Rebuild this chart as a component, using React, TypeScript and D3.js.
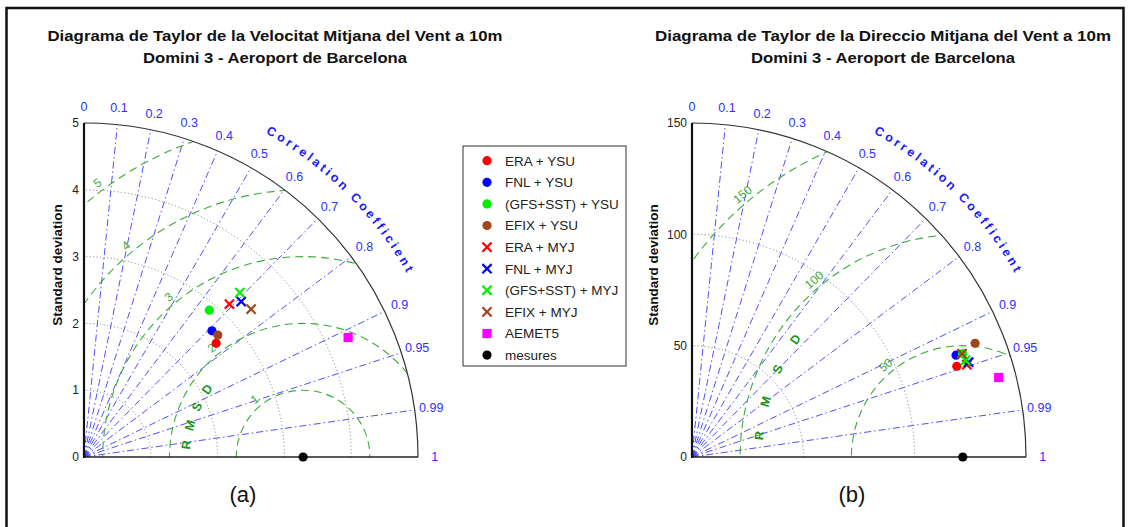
import React from "react";
import * as d3 from "d3";

// Series shared by both diagrams
const seriesNames = [
  "ERA + YSU",
  "FNL + YSU",
  "(GFS+SST) + YSU",
  "EFIX + YSU",
  "ERA + MYJ",
  "FNL + MYJ",
  "(GFS+SST) + MYJ",
  "EFIX + MYJ",
  "AEMET5",
  "mesures",
];
const seriesColors = ["#ff0000", "#0000ff", "#00ee00", "#a0461a", "#ff0000", "#0000ff", "#00ee00", "#a0461a", "#ff00ff", "#000000"];
const seriesShapes = ["circle", "circle", "circle", "circle", "cross", "cross", "cross", "cross", "square", "dot"];

// (a) wind speed: standard deviation and correlation per series
const speedStd = [2.61, 2.69, 2.89, 2.71, 3.16, 3.31, 3.39, 3.34, 4.34, 3.28];
const speedCorr = [0.758, 0.712, 0.649, 0.739, 0.689, 0.711, 0.688, 0.749, 0.911, 1];
const speedStdTicks = [0, 1, 2, 3, 4, 5];
const speedRmsd = [1, 2, 3, 4, 5];

// (b) wind direction
const dirStd = [125.7, 127.1, 130.1, 137.0, 130.2, 131.3, 130.3, 129.8, 142.3, 121.6];
const dirCorr = [0.946, 0.933, 0.934, 0.928, 0.948, 0.946, 0.943, 0.934, 0.968, 1];
const dirStdTicks = [0, 50, 100, 150];
const dirRmsd = [50, 100, 150];

// Correlation rays and labels
const corrLines = [0.1, 0.2, 0.3, 0.4, 0.5, 0.6, 0.7, 0.8, 0.9, 0.95, 0.99];
const corrLabels = [0, 0.1, 0.2, 0.3, 0.4, 0.5, 0.6, 0.7, 0.8, 0.9, 0.95, 0.99, 1];

const FONT = "'Liberation Sans', Arial, Helvetica, sans-serif";
const BLUE = "#3030ff";
const GREEN = "#3cab3c";

type PanelProps = {
  id: string;
  ox: number;
  oy: number;
  R: number;
  maxStd: number;
  std: number[];
  corr: number[];
  stdTicks: number[];
  rmsd: number[];
  rmsdLetterRadius: number;
  ylabGap: number;
  title: string[];
  titleWidths: number[];
  titleX: number;
  caption: string;
  captionX: number;
};

function Marker({ shape, color, x, y }: { shape: string; color: string; x: number; y: number }) {
  if (shape === "circle" || shape === "dot") {
    return <circle cx={x} cy={y} r={4.6} fill={color} />;
  }
  if (shape === "square") {
    return <rect x={x - 4.6} y={y - 4.6} width={9.2} height={9.2} fill={color} />;
  }
  const s = 4.6;
  return (
    <g stroke={color} strokeWidth={2.2}>
      <line x1={x - s} y1={y - s} x2={x + s} y2={y + s} />
      <line x1={x - s} y1={y + s} x2={x + s} y2={y - s} />
    </g>
  );
}

function TaylorPanel(p: PanelProps) {
  const { ox, oy, R, maxStd } = p;
  const rs = d3.scaleLinear().domain([0, maxStd]).range([0, R]);
  const pos = (s: number, c: number): [number, number] => {
    const r = rs(s);
    return [ox + r * c, oy - r * Math.sqrt(Math.max(0, 1 - c * c))];
  };
  const refStd = p.std[p.std.length - 1];
  const refX = ox + rs(refStd);

  const quarter = (r: number) => {
    const path = d3.path();
    path.moveTo(ox + r, oy);
    path.arc(ox, oy, r, 0, -Math.PI / 2, true);
    return path.toString();
  };
  const sector = (() => {
    const path = d3.path();
    path.moveTo(ox, oy);
    path.lineTo(ox + R, oy);
    path.arc(ox, oy, R, 0, -Math.PI / 2, true);
    path.closePath();
    return path.toString();
  })();

  // arc for the "Correlation Coefficient" caption, clockwise from 62° to 28°
  const capR = R * 1.112;
  const a0 = (62 * Math.PI) / 180;
  const a1 = (28 * Math.PI) / 180;
  const capPath = `M${ox + capR * Math.cos(a0)},${oy - capR * Math.sin(a0)} A${capR},${capR} 0 0 1 ${ox + capR * Math.cos(a1)},${oy - capR * Math.sin(a1)}`;

  const labelR = R * 1.05;
  const deg = Math.PI / 180;
  const ylabX = ox - p.ylabGap;
  const ylabY = oy - R * 0.575;

  return (
    <g>
      <defs>
        <clipPath id={`clip-${p.id}`}>
          <path d={sector} />
        </clipPath>
        <path id={`cap-${p.id}`} d={capPath} />
      </defs>

      {p.title.map((t, i) => (
        <text
          key={i}
          x={p.titleX}
          y={41 + i * 22}
          textAnchor="middle"
          fontFamily={FONT}
          fontWeight="bold"
          fontSize={15.5}
          fill="#111"
          textLength={p.titleWidths[i]}
          lengthAdjust="spacingAndGlyphs"
        >
          {t}
        </text>
      ))}

      {/* correlation rays */}
      {corrLines.map((c) => {
        const [x, y] = pos(maxStd, c);
        return (
          <line key={c} x1={ox} y1={oy} x2={x} y2={y} stroke={BLUE} strokeWidth={1} strokeOpacity={0.85} strokeDasharray="7,3,1.5,3" />
        );
      })}

      {/* standard deviation arcs */}
      {p.stdTicks
        .filter((t) => t > 0 && t < maxStd)
        .map((t) => (
          <path key={t} d={quarter(rs(t))} fill="none" stroke="#777" strokeWidth={1} strokeDasharray="1,2.5" />
        ))}

      {/* centered RMS difference circles */}
      <g clipPath={`url(#clip-${p.id})`}>
        {p.rmsd.map((d) => (
          <circle key={d} cx={refX} cy={oy} r={rs(d)} fill="none" stroke={GREEN} strokeWidth={1.1} strokeDasharray="8,5" />
        ))}
      </g>
      {p.rmsd.map((d) => {
        const rr = d + maxStd * 0.026;
        let th = 130 * deg;
        const xmin = maxStd * 0.04;
        if (refStd + rr * Math.cos(th) < xmin) th = Math.acos((xmin - refStd) / rr);
        const x = refX + rs(rr) * Math.cos(th);
        const y = oy - rs(rr) * Math.sin(th);
        const rot = 90 - th / deg;
        return (
          <text key={d} x={x} y={y} dy="0.35em" textAnchor="middle" fontFamily={FONT} fontSize={12} fill={GREEN} transform={`rotate(${rot},${x},${y})`}>
            {d}
          </text>
        );
      })}
      {["R", "M", "S", "D"].map((ch, i) => {
        const th = (174 - i * 9.7) * deg;
        const rr = rs(p.rmsdLetterRadius);
        const x = refX + rr * Math.cos(th);
        const y = oy - rr * Math.sin(th);
        const rot = 90 - th / deg;
        return (
          <text key={ch} x={x} y={y} dy="0.35em" textAnchor="middle" fontFamily={FONT} fontWeight="bold" fontSize={12.5} fill="#1c961c" transform={`rotate(${rot},${x},${y})`}>
            {ch}
          </text>
        );
      })}

      {/* frame */}
      <path d={quarter(R)} fill="none" stroke="#333" strokeWidth={1.2} />
      <line x1={ox} y1={oy} x2={ox + R} y2={oy} stroke="#222" strokeWidth={1.6} />
      <line x1={ox} y1={oy + 1} x2={ox} y2={oy - R} stroke="#111" strokeWidth={2.2} />

      {/* std tick labels */}
      {p.stdTicks.map((t) => (
        <text key={t} x={ox - 5} y={oy - rs(t)} dy="0.35em" textAnchor="end" fontFamily={FONT} fontSize={12} fill="#222">
          {t}
        </text>
      ))}
      <text
        x={ylabX}
        y={ylabY}
        textAnchor="middle"
        fontFamily={FONT}
        fontWeight="bold"
        fontSize={13.5}
        fill="#111"
        transform={`rotate(-90,${ylabX},${ylabY})`}
      >
        Standard deviation
      </text>

      {/* correlation labels */}
      {corrLabels.map((c) => {
        const a = Math.acos(c);
        const x = ox + labelR * Math.cos(a);
        const y = oy - labelR * Math.sin(a);
        return (
          <text key={c} x={x} y={y} dy="0.35em" textAnchor="middle" fontFamily={FONT} fontSize={12.5} fill={BLUE}>
            {c}
          </text>
        );
      })}
      <text fontFamily={FONT} fontWeight="bold" fontSize={12.5} fill="#1a1aff" letterSpacing={3}>
        <textPath href={`#cap-${p.id}`} startOffset="50%" textAnchor="middle">
          Correlation Coefficient
        </textPath>
      </text>

      {/* series markers */}
      {p.std.map((s, i) => {
        const [x, y] = pos(s, p.corr[i]);
        return <Marker key={i} shape={seriesShapes[i]} color={seriesColors[i]} x={x} y={y} />;
      })}

      <text x={p.captionX} y={502} textAnchor="middle" fontFamily={FONT} fontSize={22} fill="#111">
        {p.caption}
      </text>
    </g>
  );
}

function Legend({ x, y }: { x: number; y: number }) {
  const step = 21.6;
  return (
    <g>
      <rect x={x} y={y} width={163} height={220} fill="#fff" stroke="#333" strokeWidth={1} />
      {seriesNames.map((name, i) => {
        const cy = y + 14.7 + i * step;
        return (
          <g key={name}>
            <Marker shape={seriesShapes[i]} color={seriesColors[i]} x={x + 24} y={cy} />
            <text x={x + 42} y={cy} dy="0.36em" fontFamily={FONT} fontSize={13.5} fill="#222">
              {name}
            </text>
          </g>
        );
      })}
    </g>
  );
}

export default function App() {
  return (
    <svg width={1129} height={527} style={{ position: "absolute", left: 0, top: 0, background: "#fff" }}>
      <rect x={0} y={0} width={1129} height={527} fill="#fff" />
      <rect x={6.5} y={8} width={1117} height={560} fill="none" stroke="#111" strokeWidth={2.5} />
      <TaylorPanel
        id="a"
        ox={84}
        oy={457}
        R={334}
        maxStd={5}
        std={speedStd}
        corr={speedCorr}
        stdTicks={speedStdTicks}
        rmsd={speedRmsd}
        rmsdLetterRadius={1.76}
        ylabGap={22}
        title={["Diagrama de Taylor de la Velocitat Mitjana del Vent a 10m", "Domini 3 - Aeroport de Barcelona"]}
        titleWidths={[455, 264]}
        titleX={275}
        caption="(a)"
        captionX={243}
      />
      <TaylorPanel
        id="b"
        ox={692}
        oy={457}
        R={334}
        maxStd={150}
        std={dirStd}
        corr={dirCorr}
        stdTicks={dirStdTicks}
        rmsd={dirRmsd}
        rmsdLetterRadius={92}
        ylabGap={34}
        title={["Diagrama de Taylor de la Direccio Mitjana del Vent a 10m", "Domini 3 - Aeroport de Barcelona"]}
        titleWidths={[456, 264]}
        titleX={883}
        caption="(b)"
        captionX={852}
      />
      <Legend x={463} y={146} />
    </svg>
  );
}
